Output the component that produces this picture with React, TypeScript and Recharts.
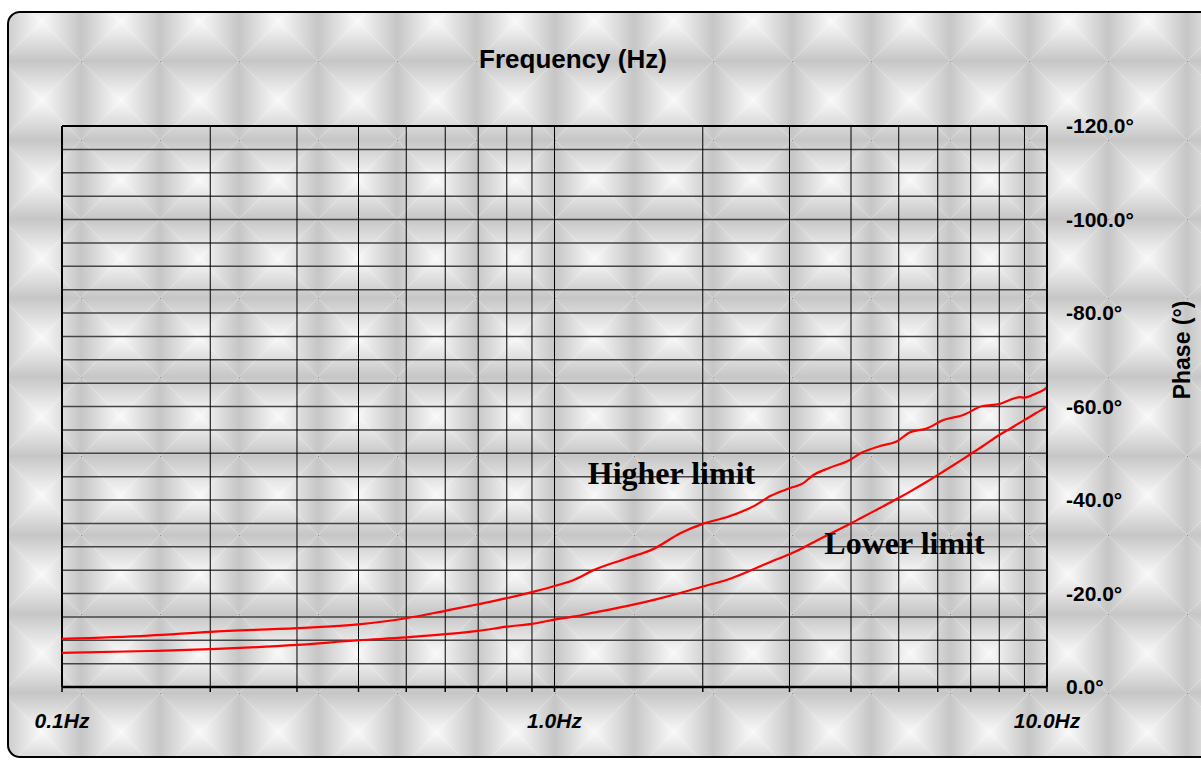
import { CartesianGrid, Line, LineChart, ReferenceDot, ReferenceLine, XAxis, YAxis } from "recharts"

const FREQ = [
  0.1, 0.15, 0.2, 0.3, 0.4, 0.5, 0.6, 0.7, 0.8, 0.9, 1.0, 1.1, 1.2, 1.4, 1.6, 1.8, 2.0, 2.25, 2.55, 2.75,
  3.0, 3.2, 3.35, 3.6, 3.95, 4.2, 4.6, 4.95, 5.27, 5.7, 6.16, 6.76, 7.4, 8.0, 8.4, 8.8, 9.0, 9.5, 9.9, 10,
]
const HIGHER = [
  -10.3, -11.0, -11.8, -12.6, -13.4, -14.7, -16.3, -17.7, -19.0, -20.3, -21.6, -23.0, -25.0, -27.5, -29.7,
  -32.9, -34.9, -36.4, -38.8, -40.9, -42.5, -43.6, -45.3, -46.8, -48.4, -50.1, -51.6, -52.5, -54.5, -55.3,
  -57.1, -58.2, -60.1, -60.5, -61.4, -62.0, -61.9, -62.8, -63.7, -64.1,
]
const LOWER = [
  -7.3, -7.7, -8.1, -9.0, -10.0, -10.6, -11.3, -12.0, -12.9, -13.5, -14.4, -15.1, -15.9, -17.3, -18.7,
  -20.1, -21.5, -23.0, -25.3, -26.8, -28.4, -29.8, -30.9, -32.6, -34.7, -36.2, -38.4, -40.2, -41.8, -43.9,
  -46.1, -48.8, -51.5, -53.9, -55.2, -56.5, -57.1, -58.6, -59.7, -60.0,
]
const FREQ_TICKS = [0.1, 0.2, 0.3, 0.4, 0.5, 0.6, 0.7, 0.8, 0.9, 1, 2, 3, 4, 5, 6, 7, 8, 9, 10]
const FREQ_LABELS = [0.1, 1, 10]
const PHASE_TICKS = [
  -120, -115, -110, -105, -100, -95, -90, -85, -80, -75, -70, -65, -60, -55, -50, -45, -40, -35, -30, -25,
  -20, -15, -10, -5, 0,
]

const SANS = "'Liberation Sans', Arial, sans-serif"
const SERIF = "'Liberation Serif', 'Times New Roman', serif"

// pillow-shaped texture tile, like the old Excel chart fill
const TILE = `<svg xmlns='http://www.w3.org/2000/svg' width='79' height='79'>
<defs>
<linearGradient id='t' x1='0' y1='0' x2='0' y2='1'><stop offset='0' stop-color='#c6c6c6'/><stop offset='0.55' stop-color='#e2e2e2'/><stop offset='1' stop-color='#f9f9f9'/></linearGradient>
<linearGradient id='b' x1='0' y1='1' x2='0' y2='0'><stop offset='0' stop-color='#c6c6c6'/><stop offset='0.55' stop-color='#e2e2e2'/><stop offset='1' stop-color='#f9f9f9'/></linearGradient>
<linearGradient id='l' x1='0' y1='0' x2='1' y2='0'><stop offset='0' stop-color='#c6c6c6'/><stop offset='0.55' stop-color='#e2e2e2'/><stop offset='1' stop-color='#f9f9f9'/></linearGradient>
<linearGradient id='r' x1='1' y1='0' x2='0' y2='0'><stop offset='0' stop-color='#c6c6c6'/><stop offset='0.55' stop-color='#e2e2e2'/><stop offset='1' stop-color='#f9f9f9'/></linearGradient>
</defs>
<polygon points='0,0 79,0 39.5,39.5' fill='url(#t)'/>
<polygon points='0,79 79,79 39.5,39.5' fill='url(#b)'/>
<polygon points='0,0 0,79 39.5,39.5' fill='url(#l)'/>
<polygon points='79,0 79,79 39.5,39.5' fill='url(#r)'/>
<rect x='0' y='0' width='1' height='1' fill='#8a8a8a'/>
</svg>`

const data = FREQ.map((f, i) => ({ freq: f, higher: HIGHER[i], lower: LOWER[i] }))

const fmtFreq = (v: number) => (FREQ_LABELS.includes(v) ? `${v.toFixed(1)}Hz` : "")
const fmtPhase = (v: number) => (v % 20 === 0 ? `${v.toFixed(1)}°` : "")

export default function App() {
  return (
    <div style={{ position: "fixed", left: 0, top: 0, width: 1201, height: 760, overflow: "hidden", background: "#fff" }}>
      <div
        style={{
          position: "absolute",
          left: 7,
          top: 11,
          width: 1210,
          height: 747,
          boxSizing: "border-box",
          border: "2px solid #000",
          borderRadius: 13,
          backgroundImage: `url("data:image/svg+xml,${encodeURIComponent(TILE)}")`,
          backgroundPosition: "72px 48px",
        }}
      />
      <div style={{ position: "absolute", left: 0, top: 0 }}>
        <LineChart width={1201} height={760} data={data} margin={{ top: 126, right: 34, bottom: 23, left: 62 }}>
          <CartesianGrid horizontal={true} vertical={false} stroke="#454545" strokeWidth={1.5} />
          <CartesianGrid horizontal={false} vertical={true} stroke="#000" strokeWidth={1} />
          <XAxis
            dataKey="freq"
            type="number"
            scale="log"
            domain={[0.1, 10]}
            ticks={FREQ_TICKS}
            interval={0}
            tickFormatter={fmtFreq}
            height={50}
            tickSize={5}
            tickMargin={21}
            axisLine={{ stroke: "#000", strokeWidth: 2.5 }}
            tickLine={{ stroke: "#000", strokeWidth: 1.5 }}
            tick={{ fill: "#000", fontSize: 21, fontWeight: 700, fontStyle: "italic", fontFamily: SANS }}
            allowDataOverflow
          />
          <YAxis
            orientation="right"
            type="number"
            domain={[-120, 0]}
            reversed
            ticks={PHASE_TICKS}
            interval={0}
            tickFormatter={fmtPhase}
            width={120}
            tickSize={0}
            tickMargin={19}
            axisLine={{ stroke: "#000", strokeWidth: 2 }}
            tickLine={false}
            tick={{ fill: "#000", fontSize: 21, fontWeight: 700, fontFamily: SANS, textAnchor: "start" }}
          />
          <ReferenceLine y={-120} stroke="#000" strokeWidth={2} />
          <ReferenceLine x={0.1} stroke="#000" strokeWidth={2} />
          <Line type="monotone" dataKey="higher" stroke="#ff0000" strokeWidth={2.2} dot={false} isAnimationActive={false} />
          <Line type="monotone" dataKey="lower" stroke="#ff0000" strokeWidth={2.2} dot={false} isAnimationActive={false} />
          <ReferenceDot
            x={1.728}
            y={-45.9}
            r={0}
            stroke="none"
            label={{ value: "Higher limit", position: "center", fill: "#000", fontSize: 32, fontWeight: 700, fontFamily: SERIF }}
          />
          <ReferenceDot
            x={5.136}
            y={-30.95}
            r={0}
            stroke="none"
            label={{ value: "Lower limit", position: "center", fill: "#000", fontSize: 32, fontWeight: 700, fontFamily: SERIF }}
          />
        </LineChart>
      </div>
      <svg width={1201} height={760} style={{ position: "absolute", left: 0, top: 0, pointerEvents: "none" }}>
        <text x={573} y={68} textAnchor="middle" fontFamily={SANS} fontWeight={700} fontSize={26} fill="#000">
          Frequency (Hz)
        </text>
        <text
          x={1190}
          y={350}
          textAnchor="middle"
          transform="rotate(-90 1190 350)"
          fontFamily={SANS}
          fontWeight={700}
          fontSize={23}
          fill="#000"
        >
          Phase (°)
        </text>
      </svg>
    </div>
  )
}
